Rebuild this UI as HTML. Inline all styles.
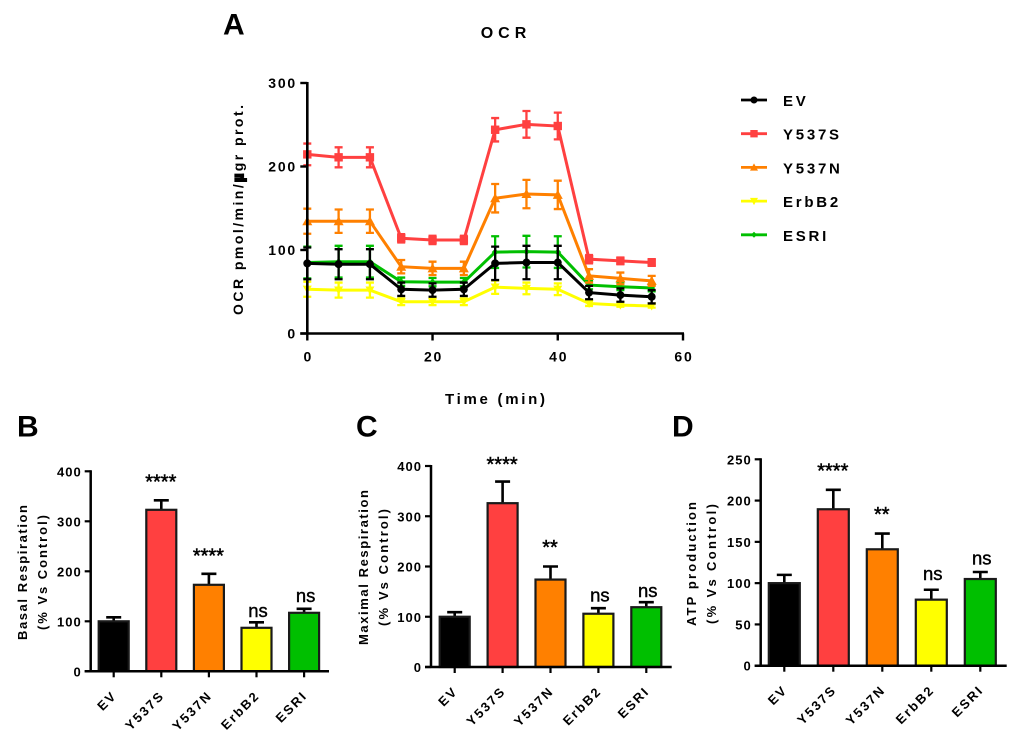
<!DOCTYPE html>
<html lang="en">
<head>
<meta charset="utf-8">
<title>OCR chart</title>
<style>
html,body{margin:0;padding:0;background:#fff;}
svg{display:block;filter:blur(0.3px);}
text{font-family:"Liberation Sans",sans-serif;fill:#000;}
.b{font-weight:700;}
</style>
</head>
<body>
<svg id="figure" xmlns="http://www.w3.org/2000/svg" width="1020" height="745" viewBox="0 0 1020 745">
  <rect x="0" y="0" width="1020" height="745" fill="#fff"/>

  <text class="b" x="223" y="34.5" font-size="30">A</text>
  <text class="b" x="17" y="436.5" font-size="30">B</text>
  <text class="b" x="356" y="436.5" font-size="30">C</text>
  <text class="b" x="672" y="436.5" font-size="30">D</text>

  <text class="b" x="506" y="38" font-size="16" text-anchor="middle" style="letter-spacing:5px">OCR</text>
  <text class="b" x="495" y="404" font-size="15" text-anchor="middle" textLength="100" lengthAdjust="spacing">Time (min)</text>
  <text class="b" transform="translate(243,210) rotate(-90)" font-size="14" text-anchor="middle" textLength="210" lengthAdjust="spacing">OCR pmol/min/<tspan stroke="#000" stroke-width="2.2">µ</tspan>gr prot.</text>

  <g id="line-chart"></g>
  <g id="legend"></g>

  <g id="panel-b">
    <text class="b" transform="translate(27,572.5) rotate(-90)" font-size="13" text-anchor="middle" textLength="135" lengthAdjust="spacing">Basal Respiration</text>
    <text class="b" transform="translate(47,572.5) rotate(-90)" font-size="13" text-anchor="middle" textLength="115" lengthAdjust="spacing">(% Vs Control)</text>
  </g>
  <g id="panel-c">
    <text class="b" transform="translate(368,567.5) rotate(-90)" font-size="13" text-anchor="middle" textLength="155" lengthAdjust="spacing">Maximal Respiration</text>
    <text class="b" transform="translate(388,567.5) rotate(-90)" font-size="13" text-anchor="middle" textLength="117" lengthAdjust="spacing">(% Vs Control)</text>
  </g>
  <g id="panel-d">
    <text class="b" transform="translate(696,564) rotate(-90)" font-size="13" text-anchor="middle" textLength="124" lengthAdjust="spacing">ATP production</text>
    <text class="b" transform="translate(716,564) rotate(-90)" font-size="13" text-anchor="middle" textLength="120" lengthAdjust="spacing">(% Vs Control)</text>
  </g>
</svg>

<script>
// ---------- Line chart data ----------
const timePoints = [0, 5, 10, 15, 20, 25, 30, 35, 40, 45, 50, 55];
const evMean    = [84, 83, 83, 53, 52, 53, 84, 85, 85, 49, 46, 44];
const evError   = [19, 18, 18, 8, 8, 8, 20, 20, 20, 8, 8, 8];
const y537sMean  = [214.5, 211, 211, 114, 112, 112, 244, 250.5, 248.5, 89, 87, 85];
const y537sError = [13, 12, 12, 5, 5, 5, 14, 16, 16, 5, 4, 4];
const y537nMean  = [134.5, 134.5, 134.5, 80, 78, 78, 162, 167, 166, 69, 66, 63];
const y537nError = [15, 14, 14, 8, 8, 8, 17, 17, 17, 8, 7, 6];
const erbb2Mean  = [53, 52, 52, 38, 38, 38, 55.5, 54, 53, 36, 34, 33];
const erbb2Error = [9, 9, 9, 4, 4, 4, 8, 7, 7, 3, 2, 2];
const esriMean   = [85, 86, 86, 62, 61.5, 61.5, 97.5, 98, 97.5, 58, 56, 54.5];
const esriError  = [19, 19, 19, 5, 5, 5, 19, 19, 19, 5, 4, 4];
const lineXTicks = [0, 20, 40, 60];
const lineYTicks = [0, 100, 200, 300];
const legendNames = ['EV', 'Y537S', 'Y537N', 'ErbB2', 'ESRI'];

// ---------- Bar chart data ----------
const barCategories = ['EV', 'Y537S', 'Y537N', 'ErbB2', 'ESRI'];
const barColors = ['#000000', '#FF4040', '#FF8000', '#FFFF00', '#00BF00'];

const basalValues = [100, 323, 173, 87, 117];
const basalErrors = [8, 19, 22, 11, 8];
const basalSignificance = ['', '****', '****', 'ns', 'ns'];
const basalTicks = [0, 100, 200, 300, 400];

const maximalValues = [100, 326, 174, 106, 119];
const maximalErrors = [9, 43, 26, 11, 10];
const maximalSignificance = ['', '****', '**', 'ns', 'ns'];
const maximalTicks = [0, 100, 200, 300, 400];

const atpValues = [100, 189.5, 141, 80, 105];
const atpErrors = [10, 23.5, 19, 12, 8.5];
const atpSignificance = ['', '****', '**', 'ns', 'ns'];
const atpTicks = [0, 50, 100, 150, 200, 250];

// ---------- Helpers ----------
const NS = 'http://www.w3.org/2000/svg';
function make(parent, tag, props) {
  const el = document.createElementNS(NS, tag);
  for (const k in props) el.setAttribute(k, props[k]);
  parent.appendChild(el);
  return el;
}
function slug(s) { return String(s).toLowerCase(); }

function drawMarker(parent, shape, x, y, color, size) {
  const s = size;
  let el;
  if (shape === 'circle') {
    el = make(parent, 'circle', { cx: x, cy: y, r: s, fill: color });
  } else if (shape === 'square') {
    el = make(parent, 'rect', { x: x - s, y: y - s, width: 2 * s, height: 2 * s, fill: color });
  } else if (shape === 'up') {
    el = make(parent, 'polygon', { points: [x, y - s, x + s, y + s * 0.8, x - s, y + s * 0.8].join(' '), fill: color });
  } else if (shape === 'down') {
    el = make(parent, 'polygon', { points: [x - s, y - s * 0.8, x + s, y - s * 0.8, x, y + s].join(' '), fill: color });
  } else {
    el = make(parent, 'polygon', { points: [x, y - s, x + s, y, x, y + s, x - s, y].join(' '), fill: color });
  }
  
  
}

// ---------- Line chart ----------
const lineX = v => 307.3 + (v - 0) * (683 - 307.3) / (60 - 0);
const lineY = v => 333.5 - (v - 0) * (333.5 - 83) / (300 - 0);

function drawLineChart() {
  const root = document.getElementById('line-chart');
  const series = [
    { key: 'esri', mean: esriMean, err: esriError, color: '#00BF00', shape: 'diamond', size: 3.5 },
    { key: 'erbb2', mean: erbb2Mean, err: erbb2Error, color: '#FFFF00', shape: 'down', size: 4.5 },
    { key: 'y537n', mean: y537nMean, err: y537nError, color: '#FF8000', shape: 'up', size: 5 },
    { key: 'y537s', mean: y537sMean, err: y537sError, color: '#FF4040', shape: 'square', size: 4.2 },
    { key: 'ev', mean: evMean, err: evError, color: '#000000', shape: 'circle', size: 4 }
  ];
  series.forEach(s => {
    const g = make(root, 'g', {});
    
    
    timePoints.forEach((t, i) => {
      const x = lineX(t), hi = lineY(s.mean[i] + s.err[i]), lo = lineY(s.mean[i] - s.err[i]);
      const bar = make(g, 'path', {
        d: 'M' + x + ' ' + hi + 'V' + lo + 'M' + (x - 4) + ' ' + hi + 'H' + (x + 4) + 'M' + (x - 4) + ' ' + lo + 'H' + (x + 4),
        stroke: s.color, 'stroke-width': 2.3, fill: 'none'
      });
      
      
    });
    const line = make(g, 'polyline', {
      points: timePoints.map((t, i) => lineX(t) + ',' + lineY(s.mean[i])).join(' '),
      fill: 'none', stroke: s.color, 'stroke-width': 3
    });
    
    
    timePoints.forEach((t, i) => drawMarker(g, s.shape, lineX(t), lineY(s.mean[i]), s.color, s.size));
  });

  const yAxis = make(root, 'line', { x1: lineX(0), x2: lineX(0), y1: lineY(300) - 1, y2: lineY(0) + 1, stroke: '#000', 'stroke-width': 2.6 });
  
  
  const xAxis = make(root, 'line', { x1: lineX(0) - 7, x2: lineX(60) + 1, y1: lineY(0), y2: lineY(0), stroke: '#000', 'stroke-width': 2.6 });
  
  

  lineYTicks.forEach(v => {
    const tick = make(root, 'line', { x1: lineX(0) - 7, x2: lineX(0), y1: lineY(v), y2: lineY(v), stroke: '#000', 'stroke-width': 2.4 });
    
    
    const label = make(root, 'text', { x: 297, y: lineY(v) + 5, 'text-anchor': 'end', 'font-size': 14, 'class': 'b', style: 'letter-spacing:1.8px' });
    label.textContent = v;
    
    
  });
  lineXTicks.forEach(v => {
    const tick = make(root, 'line', { x1: lineX(v), x2: lineX(v), y1: lineY(0), y2: lineY(0) + 7, stroke: '#000', 'stroke-width': 2.4 });
    
    
    const label = make(root, 'text', { x: lineX(v) + 1, y: 361.5, 'text-anchor': 'middle', 'font-size': 14, 'class': 'b', style: 'letter-spacing:1.8px' });
    label.textContent = v;
    
    
  });
}

function drawLegend() {
  const root = document.getElementById('legend');
  const colors = ['#000000', '#FF4040', '#FF8000', '#FFFF00', '#00BF00'];
  const shapes = ['circle', 'square', 'up', 'down', 'diamond'];
  const sizes = [3.5, 3.7, 4, 4, 3];
  legendNames.forEach((name, i) => {
    const y = 100 + i * 33.7;
    const g = make(root, 'g', {});
    
    
    const key = make(g, 'line', { x1: 741, x2: 767, y1: y, y2: y, stroke: colors[i], 'stroke-width': 2.8 });
    
    
    drawMarker(g, shapes[i], 754, y, colors[i], sizes[i]);
    const label = make(g, 'text', { x: 783, y: y + 6, 'font-size': 15, 'class': 'b', style: 'letter-spacing:2.75px' });
    label.textContent = name;
    
    
  });
}

// ---------- Bar charts ----------
function drawBarChart(rootId, prefix, box, values, errors, sig, ticks, sigOffsets) {
  const root = document.getElementById(rootId);
  const yMax = ticks[ticks.length - 1];
  const y = v => box.y0 - v * (box.y0 - box.yTop) / yMax;
  const x = i => box.c0 + i * box.step;

  values.forEach((v, i) => {
    const cx = x(i), top = y(v), errTop = y(v + errors[i]);
    const err = make(root, 'path', {
      d: 'M' + cx + ' ' + top + 'V' + errTop + 'M' + (cx - 7.5) + ' ' + errTop + 'H' + (cx + 7.5),
      stroke: '#000', 'stroke-width': 2.6, fill: 'none'
    });
    
    
    const bar = make(root, 'rect', {
      x: cx - box.w / 2, y: top, width: box.w, height: box.y0 - top,
      fill: barColors[i], stroke: '#1a1a1a', 'stroke-width': 2.2
    });
    
    

    if (sig[i]) {
      const isStars = sig[i].charAt(0) === '*';
      const base = errTop - sigOffsets[i];
      const t = make(root, 'text', {
        x: cx + (isStars ? -0.5 : 1.5), y: base, 'text-anchor': 'middle',
        'font-size': isStars ? 20 : 18.5,
        stroke: '#000', 'stroke-width': isStars ? 0.5 : 0.4
      });
      t.textContent = sig[i];
      
      
    }

    const tick = make(root, 'line', { x1: cx, x2: cx, y1: box.y0, y2: box.y0 + 6, stroke: '#000', 'stroke-width': 2.2 });
    
    
    const label = make(root, 'text', {
      transform: 'translate(' + (cx + 4) + ',' + (box.y0 + 25) + ') rotate(-45)',
      'text-anchor': 'end', 'font-size': 13, 'class': 'b', style: 'letter-spacing:2px'
    });
    label.textContent = barCategories[i];
    
    
  });

  const yAxis = make(root, 'line', { x1: box.ax, x2: box.ax, y1: box.yTop - 1, y2: box.y0 + 1, stroke: '#000', 'stroke-width': 2.5 });
  
  
  const xAxis = make(root, 'line', { x1: box.ax - 6, x2: box.xEnd, y1: box.y0, y2: box.y0, stroke: '#000', 'stroke-width': 2.5 });
  
  

  ticks.forEach(v => {
    const tick = make(root, 'line', { x1: box.ax - 6, x2: box.ax, y1: y(v), y2: y(v), stroke: '#000', 'stroke-width': 2.2 });
    
    
    const label = make(root, 'text', { x: box.ax - 9, y: y(v) + 5, 'text-anchor': 'end', 'font-size': 13, 'class': 'b', style: 'letter-spacing:1px' });
    label.textContent = v;
    
    
  });
}

drawLineChart();
drawLegend();
drawBarChart('panel-b', 'basal',
  { ax: 90.7, xEnd: 329, y0: 671.3, yTop: 471.3, c0: 113.7, step: 47.6, w: 30 },
  basalValues, basalErrors, basalSignificance, basalTicks, [0, 12, 11.5, 5.3, 7]);
drawBarChart('panel-c', 'maximal',
  { ax: 431, xEnd: 671.7, y0: 667, yTop: 466, c0: 454.7, step: 47.9, w: 30 },
  maximalValues, maximalErrors, maximalSignificance, maximalTicks, [0, 10.6, 12.5, 6.5, 5.3]);
drawBarChart('panel-d', 'atp',
  { ax: 760.7, xEnd: 1006.7, y0: 665.7, yTop: 459.3, c0: 784.3, step: 49, w: 31 },
  atpValues, atpErrors, atpSignificance, atpTicks, [0, 12.2, 12.6, 9.7, 7.5]);
</script>
</body>
</html>
